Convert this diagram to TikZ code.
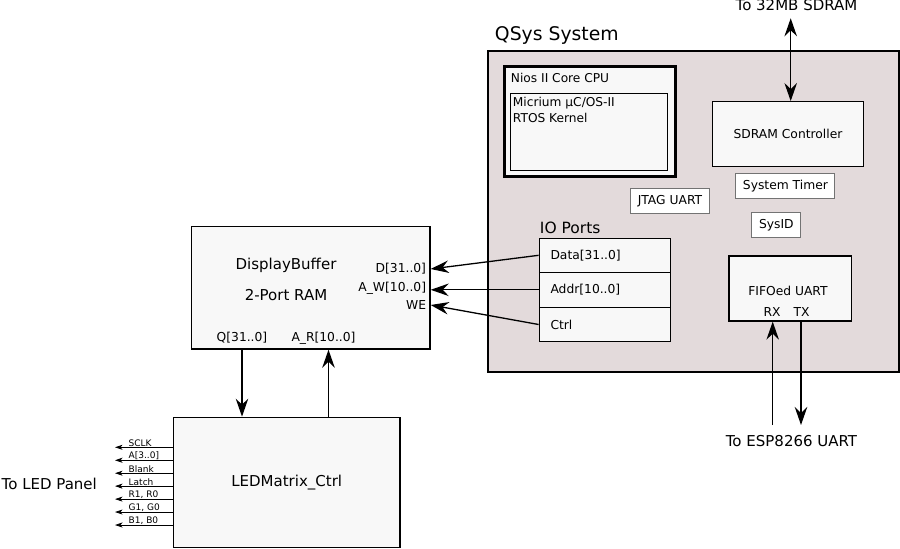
\documentclass[tikz,border=0pt]{standalone}
\usepackage{fontspec}
\setmainfont{DejaVu Sans}
\usetikzlibrary{arrows.meta}
\definecolor{qsysfill}{RGB}{227,218,219}
\definecolor{boxfill}{RGB}{248,248,248}
\begin{document}
\begin{tikzpicture}[x=1pt,y=1pt,yscale=-1,xscale=1,
  box/.style={draw,fill=boxfill,line width=1.3pt,inner sep=0pt},
  smallbox/.style={draw=black!55,fill=white,line width=0.9pt,inner sep=0pt,font=\fontsize{12.3}{14}\selectfont},
  txt/.style={inner sep=0.75pt},
  big/.style={font=\fontsize{15}{18}\selectfont},
  mid/.style={font=\fontsize{12.3}{14}\selectfont},
  tiny/.style={font=\fontsize{9}{10}\selectfont},
  arr/.style={line width=1.3pt,-{Stealth[length=18pt,width=12.5pt,inset=6pt]}},
  darr/.style={line width=1.3pt,{Stealth[length=18pt,width=12.5pt,inset=6pt]}-{Stealth[length=18pt,width=12.5pt,inset=6pt]}},
  sarr/.style={line width=0.8pt,-{Stealth[length=7.5pt,width=5pt,inset=2pt]}}]
\useasboundingbox (0,0) rectangle (900,549);

%Shape: QSys system frame
\node [box,fill=qsysfill,minimum width=411pt,minimum height=321pt] (qsys) at (693.5,211.5) {};
% Text Node
\node [txt,anchor=west,font=\fontsize{18.8}{21}\selectfont] (qsysLbl) at (494,35) {QSys System};

%Shape: Nios core
\node [box,line width=2.2pt,minimum width=171pt,minimum height=110pt] (nios) at (590,121.4) {};
\node [txt,anchor=west,font=\fontsize{12.2}{14}\selectfont] (niosLbl) at (510,77.5) {Nios II Core CPU};
\node [box,minimum width=157.5pt,minimum height=77.5pt] (rtos) at (588.9,132) {};
\node [txt,anchor=north west,align=left,font=\fontsize{12.2}{16.5}\selectfont] (rtosLbl) at (512,96) {Micrium µC/OS-II\\RTOS Kernel};

%Shape: SDRAM controller and peripherals
\node [box,minimum width=150.5pt,minimum height=65pt,mid] (sdram) at (788,134.2) {SDRAM Controller};
\node [smallbox,minimum width=99pt,minimum height=25pt] (timer) at (785.4,185.8) {System Timer};
\node [smallbox,minimum width=78.5pt,minimum height=25pt] (jtag) at (670,200.8) {JTAG UART};
\node [smallbox,minimum width=49pt,minimum height=25pt] (sysid) at (776.4,224.8) {SysID};

%Shape: IO ports
\node [txt,anchor=west,font=\fontsize{15.5}{18}\selectfont] (ioLbl) at (539,228) {IO Ports};
\node [box,mid,minimum width=131.4pt,minimum height=34pt,text width=109pt,align=left] (ioData) at (605,255.3) {Data[31..0]};
\node [box,mid,minimum width=131.4pt,minimum height=35pt,text width=109pt,align=left] (ioAddr) at (605,289.8) {Addr[10..0]};
\node [box,mid,minimum width=131.4pt,minimum height=34.4pt,text width=109pt,align=left] (ioCtrl) at (605,324.5) {Ctrl};

%Shape: FIFOed UART
\node [box,minimum width=122.7pt,minimum height=65pt] (fifo) at (790.4,288.5) {};
\node [txt,mid] (fifoLbl) at (788,291) {FIFOed UART};
\node [txt,mid] (rx) at (772,311.7) {RX};
\node [txt,mid] (tx) at (801.5,311.7) {TX};

%Shape: display buffer
\node [box,minimum width=238.3pt,minimum height=122.3pt] (buf) at (310.9,287.9) {};
\node [txt,big] (bufLbl) at (286,265) {DisplayBuffer};
\node [txt,big] (ramLbl) at (286,295) {2-Port RAM};
\node [txt,mid,anchor=east] (pD) at (427,269) {D[31..0]};
\node [txt,mid,anchor=east] (pAW) at (427,288) {A\_W[10..0]};
\node [txt,mid,anchor=east] (pWE) at (427,305) {WE};
\node [txt,mid] (pQ) at (242,338) {Q[31..0]};
\node [txt,mid] (pAR) at (323.5,338) {A\_R[10..0]};

%Shape: LED matrix controller
\node [box,big,minimum width=226.7pt,minimum height=130pt] (led) at (286.7,482.3) {LEDMatrix\_Ctrl};
\node [txt,big,anchor=west,inner sep=0pt] (panelLbl) at (1.5,484) {To LED Panel};

% outside labels
\node [txt,big,anchor=base] (sdLbl) at (796.5,10.7) {To 32MB SDRAM};
\node [txt,big,anchor=base] (espLbl) at (791.5,446.5) {To ESP8266 UART};

%Straight Lines: IO ports to buffer
\draw [arr] (ioData.west) -- (buf.east |- pD);
\draw [arr] (ioAddr.west) -- (buf.east |- ioAddr.west);
\draw [arr] (ioCtrl.west) -- (buf.east |- pWE);

%Straight Lines: buffer and LED controller
\coordinate (arX) at ([xshift=5pt]pAR.south);
\draw [arr] (buf.south -| pQ) -- (led.north -| pQ);
\draw [arr] (led.north -| arX) -- (buf.south -| arX);

%Straight Lines: SDRAM and UART
\coordinate (sdTop) at (790.7,18.3);
\draw [darr] (sdTop) -- (sdram.north -| sdTop);
\coordinate (rxEnd) at (772.7,425);
\coordinate (txEnd) at (801,425);
\draw [arr] (rxEnd) -- (fifo.south -| rxEnd);
\draw [arr] (fifo.south -| txEnd) -- (txEnd);

%Straight Lines: panel signals
\foreach \sig [count=\i] in {SCLK,A[3..0],Blank,Latch,{R1, R0},{G1, G0},{B1, B0}}{
  \coordinate (s\i) at (115,{447.3+(\i-1)*12.95});
  \draw [sarr] (led.west |- s\i) -- (s\i);
  \node [tiny,anchor=south west,inner sep=0.5pt] (sl\i) at (128,{447.3+(\i-1)*12.95}) {\sig};
}

\end{tikzpicture}
\end{document}
